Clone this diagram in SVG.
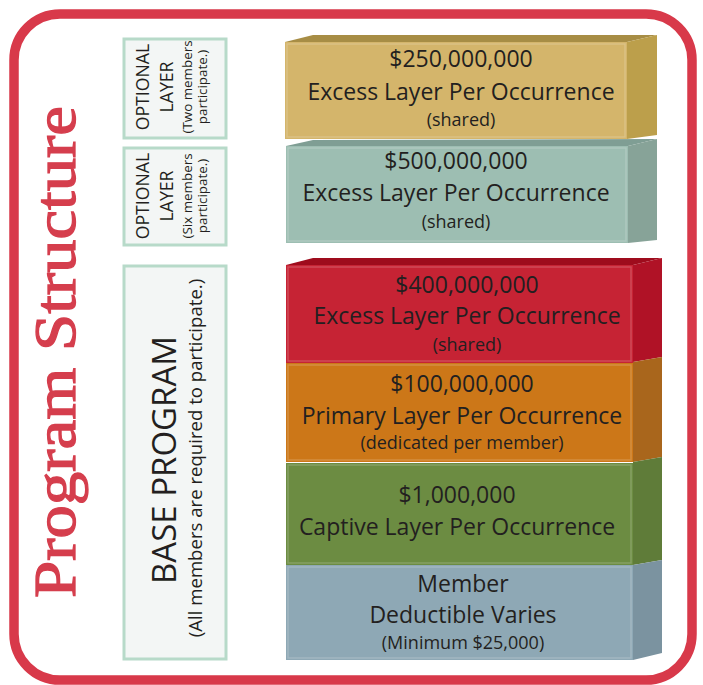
<svg xmlns="http://www.w3.org/2000/svg" width="703" height="685" viewBox="0 0 703 685">
<style>
.t{font-family:"Open Sans","Liberation Sans",sans-serif;fill:#231f20;text-anchor:middle}
.big{font-size:23px}
.sm{font-size:18px}
.lab{fill:#f3f6f5;stroke:#b7dac9;stroke-width:3}
.bev{fill:none;stroke:#ffffff;stroke-opacity:0.18;stroke-width:1.5}
.ol{font-size:17.7px}
.os{font-size:13.4px}
</style>
<rect x="0" y="0" width="703" height="685" fill="#ffffff"/>
<rect id="frame" x="14" y="14" width="678" height="666" rx="46" ry="46" fill="none" stroke="#d8394a" stroke-width="9.5"/>
<g id="title">
<text transform="translate(75,352) rotate(-90)" text-anchor="middle" font-family="'Liberation Serif','Times New Roman',serif" font-size="60" fill="#d53e4d" stroke="#d53e4d" stroke-width="1.3" textLength="492" lengthAdjust="spacingAndGlyphs">Program Structure</text>
</g>
<g id="label-optional-two">
<rect class="lab" x="124" y="39" width="102" height="99"/>
<text class="t ol" transform="translate(149,87) rotate(-90)">OPTIONAL</text>
<text class="t ol" transform="translate(173,87) rotate(-90)">LAYER</text>
<text class="t os" transform="translate(192,87) rotate(-90)">(Two members</text>
<text class="t os" transform="translate(207,87) rotate(-90)">participate.)</text>
</g>
<g id="label-optional-six">
<rect class="lab" x="124" y="148" width="102" height="97"/>
<text class="t ol" transform="translate(149,196) rotate(-90)">OPTIONAL</text>
<text class="t ol" transform="translate(173,196) rotate(-90)">LAYER</text>
<text class="t os" transform="translate(192,196) rotate(-90)">(Six members</text>
<text class="t os" transform="translate(207,196) rotate(-90)">participate.)</text>
</g>
<g id="label-base">
<rect class="lab" x="124" y="266" width="102" height="393"/>
<text class="t" transform="translate(176,460) rotate(-90)" font-size="33">BASE PROGRAM</text>
<text class="t" transform="translate(202,458) rotate(-90)" font-size="18.6">(All members are required to participate.)</text>
</g>
<g id="layer-250m">
<polygon points="285,42 313,35 657,35 627,42" fill="#a78d45"/>
<polygon points="627,42 657,35 657,135 627,139" fill="#bc9f4b"/>
<rect x="285" y="42" width="342" height="97" fill="#d4b56b"/>
<rect class="bev" x="287" y="44" width="338" height="93"/>
<text class="t big" x="461" y="67">$250,000,000</text>
<text class="t big" x="461" y="100">Excess Layer Per Occurrence</text>
<text class="t sm" x="461" y="126">(shared)</text>
</g>
<g id="layer-500m">
<polygon points="286,146 313,140 657,139 628,146" fill="#7f9e94"/>
<polygon points="628,146 657,139 657,240 628,243" fill="#87a398"/>
<rect x="286" y="146" width="342" height="97" fill="#9dbeb2"/>
<rect class="bev" x="288" y="148" width="338" height="93"/>
<text class="t big" x="456" y="169">$500,000,000</text>
<text class="t big" x="456" y="201">Excess Layer Per Occurrence</text>
<text class="t sm" x="456" y="228">(shared)</text>
</g>
<g id="layer-400m">
<polygon points="286,265 313,258 662,258 633,265" fill="#9e0c1d"/>
<polygon points="633,265 662,258 662,357 633,362" fill="#b01226"/>
<rect x="286" y="265" width="347" height="98" fill="#c62334"/>
<rect class="bev" x="288" y="267" width="343" height="94"/>
<text class="t big" x="467" y="293">$400,000,000</text>
<text class="t big" x="467" y="324">Excess Layer Per Occurrence</text>
<text class="t sm" x="467" y="351">(shared)</text>
</g>
<g id="layer-100m">
<polygon points="633,362 662,357 662,457 633,462" fill="#a9661c"/>
<rect x="286" y="363" width="347" height="99" fill="#cc7718"/>
<rect class="bev" x="288" y="365" width="343" height="95"/>
<text class="t big" x="462" y="392">$100,000,000</text>
<text class="t big" x="462" y="424">Primary Layer Per Occurrence</text>
<text class="t sm" x="462" y="449">(dedicated per member)</text>
</g>
<g id="layer-1m">
<polygon points="633,462 662,457 662,560 633,565" fill="#5f7c39"/>
<rect x="286" y="463" width="347" height="102" fill="#6c8c42"/>
<rect class="bev" x="288" y="465" width="343" height="98"/>
<text class="t big" x="457" y="503">$1,000,000</text>
<text class="t big" x="457" y="535">Captive Layer Per Occurrence</text>
</g>
<g id="layer-deductible">
<polygon points="633,565 662,560 662,653 633,660" fill="#7b93a0"/>
<rect x="286" y="565" width="347" height="95" fill="#8ea8b5"/>
<rect class="bev" x="288" y="567" width="343" height="91"/>
<text class="t big" x="463" y="592">Member</text>
<text class="t big" x="463" y="623">Deductible Varies</text>
<text class="t sm" x="463" y="649">(Minimum $25,000)</text>
</g>
<g id="connectors"></g>
</svg>
